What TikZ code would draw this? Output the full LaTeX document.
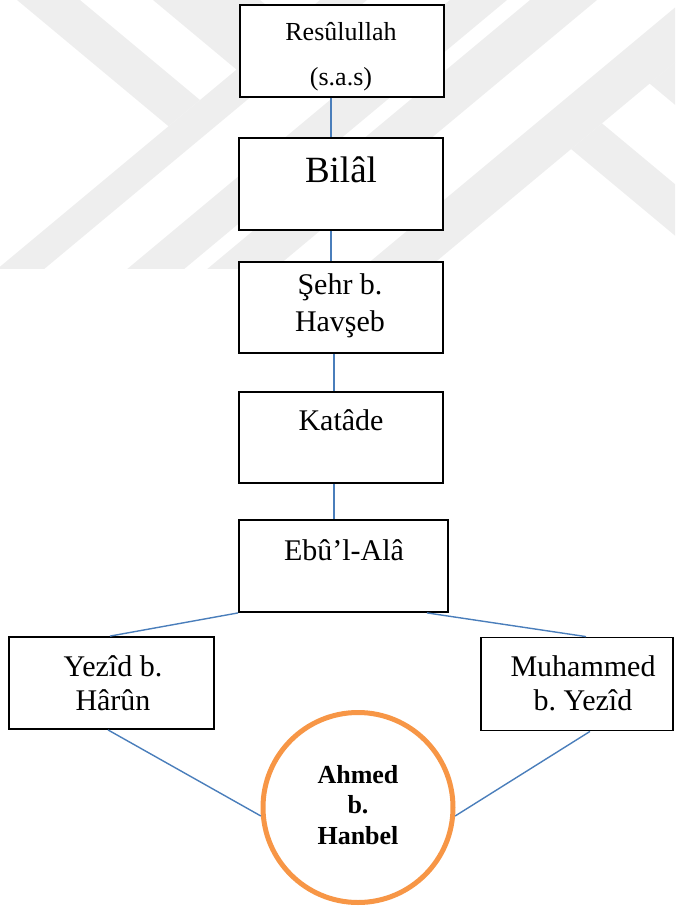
\documentclass[tikz,border=0pt]{standalone}
\usepackage{fontspec}
\setmainfont{Liberation Serif}
\usetikzlibrary{calc}
\definecolor{conblue}{HTML}{4A7EBB}
\definecolor{ringorange}{HTML}{F79646}
\definecolor{wm}{gray}{0.935}
\begin{document}
\frenchspacing
\begin{tikzpicture}[x=1pt,y=-1pt,
  box/.style={draw=black, line width=1.8pt, fill=white, minimum height=92pt, inner sep=0pt},
  conn/.style={draw=conblue, line width=1.4pt},
  lbl/.style={inner sep=0pt, align=center, text=black},
  ring/.style={circle, draw=ringorange, line width=5pt, minimum size=190pt, inner sep=0pt, fill=white},
  wmark/.style={fill=wm, draw=none}]
\useasboundingbox (0,0) rectangle (675,908);
% faint watermark
\begin{scope}
  \clip (0,0) rectangle (675,268);
  \fill[wmark] (17,0) -- (80,0) -- (200,100) -- (168.5,126.25) -- cycle;
  \fill[wmark] (153,0) -- (260,0) -- (302.5,35.4) -- (249,80) -- cycle;
  \fill[wmark] (320,0) -- (367,0) -- (43,270) -- (-4,270) -- cycle;
  \fill[wmark] (450,0) -- (507,0) -- (183,270) -- (126,270) -- cycle;
  \fill[wmark] (530,0) -- (597,0) -- (273,270) -- (206,270) -- cycle;
  \fill[wmark] (684,0) -- (750,0) -- (426,270) -- (360,270) -- cycle;
  \fill[wmark] (571,149) -- (602,123.3) -- (842,323.3) -- (811,349) -- cycle;
  \fill[wmark] (649.5,83.5) -- (750,0) -- (850,0) -- (850,250.8) -- cycle;
\end{scope}
% boxes
\node[box, minimum width=204pt] (r) at (342,51) {};
\node[box, minimum width=204pt] (b) at (341,184) {};
\node[box, minimum width=204pt, minimum height=91pt] (s) at (341,307.5) {};
\node[box, minimum width=204pt, minimum height=91pt] (k) at (341,437.5) {};
\node[box, minimum width=209pt] (e) at (343.5,566) {};
\node[box, minimum width=205pt] (y) at (111.5,683) {};
\node[box, minimum width=192pt, minimum height=93pt] (m) at (577,684) {};
\node[ring] (c) at (358,807.5) {};
% texts
\node[lbl, font=\fontsize{26}{30}\selectfont] (tr1) at (341,32) {Resûlullah};
\node[lbl, font=\fontsize{26}{30}\selectfont] (tr2) at (341,79) {(s.a.s)};
\node[lbl, font=\fontsize{37}{40}\selectfont] (tb) at (341,170) {Bilâl};
\node[lbl, font=\fontsize{30}{37}\selectfont] (ts) at (340,306) {Şehr b.\\Havşeb};
\node[lbl, font=\fontsize{30}{33}\selectfont] (tk) at (341,420) {Katâde};
\node[lbl, font=\fontsize{30}{33}\selectfont] (te) at (344,550) {Ebû’l-Alâ};
\node[lbl, font=\fontsize{30}{34}\selectfont] (ty) at (113,683) {Yezîd b.\\Hârûn};
\node[lbl, font=\fontsize{30}{34}\selectfont] (tm) at (583,683) {Muhammed\\b. Yezîd};
\node[lbl, font=\fontsize{26}{30.5}\selectfont\bfseries] (tc) at (358,805) {Ahmed\\b.\\Hanbel};
% connectors
\draw[conn] ([xshift=-11pt]r.south) -- ([xshift=-10pt]b.north);
\draw[conn] ([xshift=-10pt]b.south) -- ([xshift=-10pt]s.north);
\draw[conn] ([xshift=-7pt]s.south) -- ([xshift=-7pt]k.north);
\draw[conn] ([xshift=-7pt]k.south) -- ([xshift=-9.5pt]e.north);
\draw[conn] (e.south west) -- ([xshift=-1.5pt]y.north);
\draw[conn] ([xshift=83.5pt]e.south) -- ([xshift=9pt]m.north);
\draw[conn] ([xshift=-3.5pt]y.south) -- (c.185);
\draw[conn] ([xshift=13pt]m.south) -- (c.-5);
\end{tikzpicture}
\end{document}
